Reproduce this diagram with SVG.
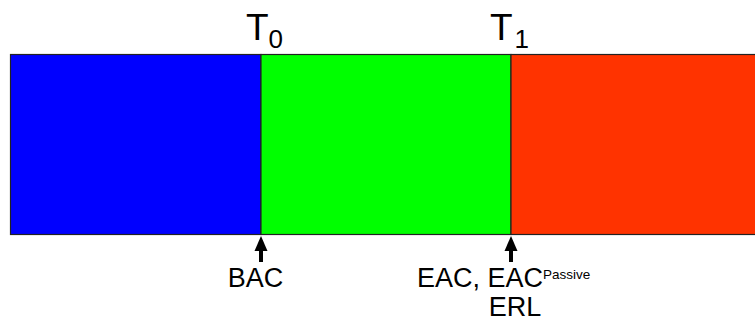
<svg xmlns="http://www.w3.org/2000/svg" width="755" height="323" viewBox="0 0 755 323">
<style>
text{font-family:"Liberation Sans",Arial,sans-serif;fill:#000}
.seg{stroke:#222;stroke-width:1.2}
.lbl{font-size:27px}
.t{font-size:37px}
.sub{font-size:26px}
.sup{font-size:13.5px}
.shaft{stroke:#000;stroke-width:4}
.head{fill:#000}
</style>
<g id="segment-blue"><rect class="seg" x="10.5" y="54.5" width="250.5" height="180" fill="#0000FF"/></g>
<g id="segment-green"><rect class="seg" x="261" y="54.5" width="250" height="180" fill="#00FF00"/></g>
<g id="segment-red"><rect class="seg" x="511" y="54.5" width="250" height="180" fill="#FF3300"/></g>
<g id="label-t0"><text class="t" x="246" y="40">T<tspan class="sub" dy="8">0</tspan></text></g>
<g id="label-t1"><text class="t" x="490" y="40">T<tspan class="sub" dx="2" dy="8">1</tspan></text></g>
<g id="connectors">
<line class="shaft" x1="261" y1="262" x2="261" y2="249"/>
<polygon class="head" points="261,236 267.5,251 254.5,251"/>
<line class="shaft" x1="511" y1="262" x2="511" y2="249"/>
<polygon class="head" points="511,236 517.5,251 504.5,251"/>
</g>
<g id="label-bac"><text class="lbl" x="255.5" y="287" text-anchor="middle">BAC</text></g>
<g id="label-eac"><text class="lbl" x="417" y="287">EAC, EAC<tspan class="sup" dy="-8">Passive</tspan></text></g>
<g id="label-erl"><text class="lbl" x="515" y="316" text-anchor="middle">ERL</text></g>
</svg>
